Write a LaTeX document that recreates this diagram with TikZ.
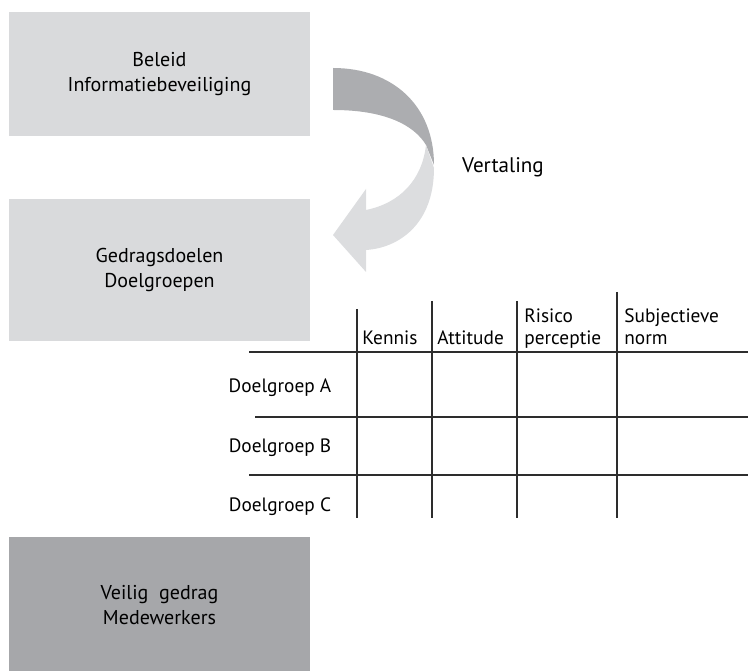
\documentclass[tikz,border=0pt]{standalone}
\usepackage{fontspec}
\setmainfont{PT Sans}
\definecolor{boxgrey}{RGB}{217,218,220}
\definecolor{boxdark}{RGB}{166,167,170}
\definecolor{arrowdark}{RGB}{172,173,176}
\definecolor{arrowlight}{RGB}{220,221,223}
\definecolor{gridline}{RGB}{45,45,45}

\begin{document}
\begin{tikzpicture}[x=0.02cm, y=-0.02cm,
        box/.style={fill=boxgrey, minimum width=6.02cm, inner sep=0pt, align=center, font=\fontsize{11.4}{14}\selectfont},
        head/.style={anchor=base west, align=left, inner sep=0pt, font=\fontsize{11}{13}\selectfont},
        row/.style={anchor=base, inner sep=0pt, font=\fontsize{11}{13}\selectfont},
        grid/.style={draw=gridline, line width=0.6pt}]
        \useasboundingbox (0,0) rectangle (748,671);

        \node[box, minimum height=2.48cm] (Beleid) at (159.5,74) {Beleid\\Informatiebeveiliging};
        \node[box, minimum height=2.84cm] (Doelen) at (159.5,270) {Gedragsdoelen\\Doelgroepen};
        \node[box, minimum height=2.72cm, fill=boxdark] (Gedrag) at (159.5,605) {Veilig\ \ gedrag\\Medewerkers};

        % curved arrow, dark half on top, light half with the head
        \fill[arrowdark] (333,68) .. controls (392,68) and (434,105) .. (434,165)
            -- (426,145) .. controls (414,125) and (385,110) .. (333,110) -- cycle;
        \fill[arrowlight] (366,210) .. controls (400,203) and (422,180) .. (426,145)
            -- (434,168) .. controls (434,225) and (398,248) .. (366,250)
            -- (366,272) -- (333,235) -- (366,189) -- cycle;
        \node[anchor=base, inner sep=0pt, font=\fontsize{12}{14}\selectfont] (Vert) at (503,173) {Vertaling};

        % table
        \draw[grid] (249,352) -- (748,352);
        \draw[grid] (255,417) -- (748,417);
        \draw[grid] (249,475) -- (748,475);
        \draw[grid] (357,309) -- (357,518);
        \draw[grid] (432,301) -- (432,518);
        \draw[grid] (517,301) -- (517,518);
        \draw[grid] (617,292) -- (617,518);

        \node[head] (Kennis) at (362,345) {Kennis};
        \node[head] (Attitude) at (437,345) {Attitude};
        \node[head] (Risico) at (524,345) {Risico\\perceptie};
        \node[head] (Subj) at (624,345) {Subjectieve\\norm};

        \node[row] (DA) at (280,393) {Doelgroep A};
        \node[row] (DB) at (280,453) {Doelgroep B};
        \node[row] (DC) at (280,512) {Doelgroep C};
    \end{tikzpicture}
\end{document}
